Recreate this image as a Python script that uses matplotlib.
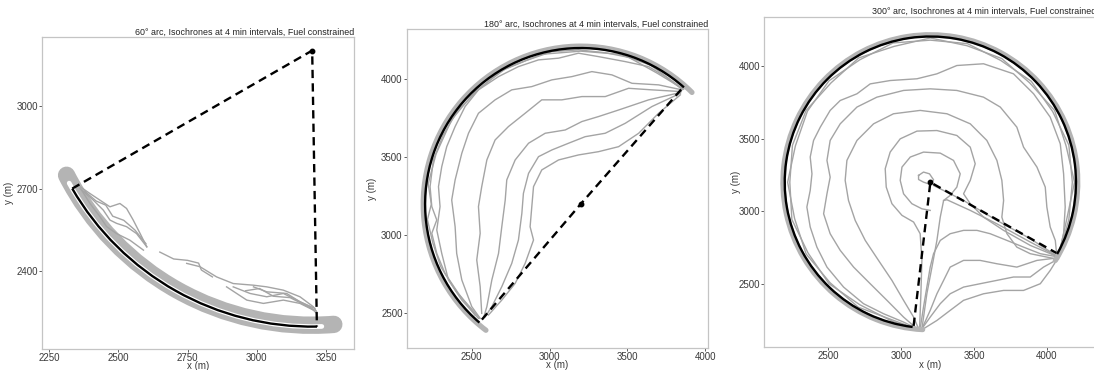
import matplotlib
matplotlib.use("Agg")
import matplotlib.pyplot as plt
from matplotlib.patches import Arc

plt.rcParams["font.family"] = ["Liberation Sans", "DejaVu Sans"]

GREY = "#a4a4a4"
BAND = "#b4b4b4"
CENTER = (3200, 3200)
RADIUS = 1000

# ---- panel 1 : 60 deg arc ----
p1_title = "60° arc, Isochrones at 4 min intervals, Fuel constrained"
p1_arc = (210, 271)
p1_band = (207, 274.5)
p1_dash_x = [2334, 3200, 3217]
p1_dash_y = [2700, 3200, 2200]
p1_iso = [
    [(2362, 2707), (2398, 2682), (2434, 2658), (2470, 2634), (2506, 2646), (2530, 2628),
     (2554, 2586), (2579, 2537), (2603, 2489)],
    [(2362, 2700), (2410, 2658), (2446, 2622), (2470, 2586), (2494, 2574), (2530, 2562),
     (2566, 2537), (2603, 2489)],
    [(2368, 2694), (2398, 2646), (2434, 2598), (2458, 2562), (2494, 2537), (2542, 2513),
     (2591, 2477)],
    [(2380, 2690), (2420, 2655), (2455, 2640), (2480, 2600), (2520, 2585), (2560, 2550),
     (2600, 2500)],
    [(2650, 2470), (2700, 2445), (2750, 2440), (2790, 2430), (2800, 2405), (2840, 2380)],
    [(2747, 2429), (2795, 2417), (2855, 2380), (2915, 2356), (2988, 2350), (3036, 2344),
     (3096, 2332), (3156, 2308), (3204, 2272), (3216, 2254)],
    [(2915, 2344), (2976, 2320), (3036, 2308), (3096, 2320), (3144, 2296), (3192, 2272),
     (3216, 2248)],
    [(2891, 2344), (2964, 2296), (3024, 2284), (3096, 2296), (3156, 2284), (3204, 2260)],
    [(2988, 2344), (3036, 2326), (3108, 2320), (3156, 2290), (3210, 2266)],
    [(2960, 2330), (3010, 2338), (3060, 2310), (3120, 2305), (3170, 2280), (3212, 2258)],
]

# ---- panel 2 : 180 deg arc ----
p2_title = "180° arc, Isochrones at 4 min intervals, Fuel constrained"
p2_arc = (48.4, 229.4)
p2_band = (45, 233)
p2_dash_x = [2565, 3200, 3858]
p2_dash_y = [2460, 3200, 3948]
p2_iso = [
    [(3841, 3900), (3701, 3782), (3573, 3654), (3444, 3568), (3315, 3536), (3186, 3515),
     (3058, 3483), (2950, 3419), (2897, 3312), (2886, 3184), (2875, 3055), (2897, 2970),
     (2843, 2820), (2779, 2692), (2693, 2585), (2607, 2489)],
    [(3841, 3910), (3658, 3825), (3487, 3718), (3358, 3654), (3229, 3632), (3122, 3590),
     (3015, 3547), (2929, 3504), (2865, 3397), (2832, 3269), (2822, 3141), (2800, 2970),
     (2757, 2820), (2693, 2671), (2629, 2543), (2586, 2478)],
    [(3841, 3915), (3637, 3868), (3444, 3803), (3315, 3761), (3208, 3729), (3101, 3675),
     (2972, 3654), (2865, 3590), (2779, 3483), (2725, 3355), (2715, 3226), (2693, 3055),
     (2672, 2884), (2629, 2714), (2597, 2543), (2575, 2468)],
    [(3847, 3921), (3658, 3932), (3508, 3942), (3358, 3889), (3208, 3889), (3079, 3868),
     (2950, 3868), (2843, 3782), (2736, 3697), (2650, 3611), (2597, 3483), (2564, 3312),
     (2543, 3184), (2554, 3013), (2532, 2842), (2554, 2671), (2564, 2500)],
    [(3851, 3932), (3701, 3964), (3530, 3974), (3401, 4028), (3272, 4049), (3144, 4017),
     (3015, 3996), (2886, 3953), (2757, 3932), (2650, 3868), (2543, 3782), (2479, 3654),
     (2436, 3526), (2393, 3355), (2371, 3226), (2393, 3055), (2403, 2884), (2436, 2714),
     (2500, 2543), (2554, 2468)],
    [(3851, 3936), (3744, 4017), (3637, 4081), (3487, 4113), (3315, 4145), (3186, 4167),
     (3058, 4135), (2929, 4124), (2800, 4081), (2672, 4017), (2543, 3932), (2457, 3825),
     (2393, 3697), (2339, 3568), (2307, 3440), (2286, 3312), (2296, 3184), (2275, 3034),
     (2307, 2884), (2350, 2714), (2436, 2585), (2543, 2468)],
    [(3862, 3936), (3690, 4040), (3510, 4140), (3358, 4170), (3186, 4188), (3015, 4177),
     (2850, 4120), (2680, 4050), (2545, 3935), (2410, 3800), (2315, 3640), (2253, 3483),
     (2232, 3312), (2243, 3184), (2275, 3098), (2243, 3013), (2275, 2884), (2328, 2756),
     (2414, 2628), (2521, 2489)],
    [(3855, 3940), (3650, 4090), (3450, 4160), (3200, 4180), (2950, 4160), (2720, 4070),
     (2520, 3920), (2370, 3740), (2270, 3520), (2220, 3330), (2240, 3200), (2215, 3100),
     (2250, 2950), (2300, 2800), (2400, 2640), (2550, 2470)],
]

# ---- panel 3 : 300 deg arc ----
p3_title = "300° arc, Isochrones at 4 min intervals, Fuel constrained"
p3_arc = (-29.5, 263)
p3_band = (-32, 267)
p3_dash_x = [3085, 3200, 4065]
p3_dash_y = [2215, 3200, 2715]
p3_iso = [
    [(4080, 2690), (4151, 2945), (4175, 3200), (4151, 3455), (4040, 3685), (3893, 3893),
     (3683, 4036), (3455, 4151), (3200, 4175), (2944, 4156), (2715, 4040), (2504, 3896),
     (2356, 3688), (2273, 3449), (2220, 3200), (2268, 2950), (2347, 2708), (2511, 2511),
     (2705, 2343), (2946, 2253), (3130, 2185)],
    [(4080, 2690), (4137, 2949), (4190, 3200), (4132, 3450), (4053, 3693), (3882, 3882),
     (3690, 4049), (3451, 4137), (3200, 4190), (2950, 4132), (2708, 4053), (2518, 3882),
     (2347, 3693), (2253, 3454), (2235, 3200), (2249, 2945), (2360, 2715), (2504, 2504),
     (2715, 2360), (2944, 2244), (3130, 2185)],
    [(4080, 2691), (4115, 2847), (4126, 3030), (4115, 3258), (4092, 3464), (4023, 3647),
     (3909, 3807), (3771, 3944), (3565, 4013), (3382, 4001), (3245, 3944), (3108, 3910),
     (2924, 3898), (2787, 3875), (2696, 3807), (2581, 3761), (2512, 3693), (2444, 3578),
     (2398, 3487), (2375, 3373), (2387, 3258), (2375, 3144), (2352, 3030), (2375, 2893),
     (2421, 2755), (2490, 2618), (2604, 2481), (2741, 2367), (2879, 2298), (3016, 2241),
     (3108, 2195)],
    [(4069, 2687), (4058, 2801), (4023, 2893), (4000, 3030), (3989, 3167), (3932, 3304),
     (3840, 3441), (3794, 3578), (3680, 3716), (3565, 3784), (3382, 3830), (3199, 3841),
     (3016, 3830), (2833, 3784), (2696, 3716), (2581, 3601), (2512, 3487), (2490, 3350),
     (2512, 3235), (2490, 3121), (2467, 2984), (2512, 2847), (2581, 2733), (2673, 2618),
     (2787, 2504), (2902, 2390), (3016, 2275), (3108, 2195)],
    [(4058, 2675), (3886, 2710), (3794, 2755), (3726, 2847), (3691, 2961), (3703, 3075),
     (3691, 3213), (3657, 3350), (3588, 3487), (3474, 3601), (3314, 3670), (3130, 3693),
     (2947, 3670), (2810, 3601), (2696, 3487), (2627, 3350), (2615, 3213), (2638, 3075),
     (2684, 2938), (2753, 2801), (2844, 2664), (2936, 2527), (3016, 2390), (3085, 2275),
     (3119, 2195)],
    [(4080, 2687), (3886, 2767), (3703, 2870), (3565, 2961), (3474, 3053), (3428, 3121),
     (3474, 3213), (3508, 3327), (3474, 3441), (3382, 3521), (3245, 3555), (3108, 3551),
     (2993, 3498), (2924, 3407), (2890, 3293), (2897, 3167), (2936, 3053), (3005, 2973),
     (3085, 2927), (3130, 2847), (3142, 2664), (3135, 2435), (3126, 2195)],
    [(3291, 3075), (3336, 3110), (3382, 3167), (3405, 3258), (3359, 3350), (3268, 3400),
     (3153, 3407), (3062, 3373), (3005, 3304), (2993, 3213), (3016, 3121), (3073, 3053),
     (3142, 3018), (3199, 3007)],
    [(3119, 3247), (3153, 3270), (3194, 3258), (3222, 3217), (3199, 3185), (3153, 3201),
     (3119, 3219), (3119, 3247)],
    [(4080, 2687), (3955, 2710), (3840, 2755), (3726, 2801), (3611, 2847), (3520, 2870),
     (3428, 2870), (3336, 2847), (3268, 2801), (3222, 2710), (3199, 2618), (3176, 2481),
     (3153, 2344), (3130, 2195)],
    [(4080, 2682), (3932, 2664), (3794, 2618), (3657, 2641), (3542, 2664), (3428, 2664),
     (3336, 2618), (3291, 2527), (3245, 2435), (3199, 2321), (3142, 2195)],
    [(4080, 2675), (3977, 2618), (3886, 2550), (3771, 2550), (3657, 2527), (3542, 2504),
     (3428, 2481), (3336, 2435), (3268, 2367), (3199, 2275), (3142, 2195)],
    [(4080, 2687), (4023, 2595), (3955, 2504), (3840, 2458), (3703, 2458), (3565, 2435),
     (3428, 2390), (3336, 2321), (3245, 2252), (3153, 2195)],
    [(4080, 2687), (3886, 2790), (3657, 2915), (3474, 3007), (3314, 3080), (3291, 3075),
     (3268, 2961), (3245, 2801), (3211, 2618), (3176, 2435), (3142, 2195)],
    [(3222, 3178), (3428, 3075), (3657, 2938), (3886, 2813), (4080, 2687)],
]

fig = plt.figure(figsize=(10.94, 3.70), dpi=100)
ax1 = fig.add_axes([0.0387, 0.0576, 0.2849, 0.8416])
ax2 = fig.add_axes([0.3718, 0.0586, 0.2757, 0.8622])
ax3 = fig.add_axes([0.6984, 0.0630, 0.3035, 0.8919])


def add_arc(ax, theta, color, lw, r=RADIUS, cap="butt", z=3):
    ax.add_patch(Arc(CENTER, 2 * r, 2 * r, theta1=theta[0], theta2=theta[1],
                     edgecolor=color, lw=lw, capstyle=cap, zorder=z))


def draw_panel(ax, iso, arc, band, dash_x, dash_y, title, xlim, ylim, xticks, yticks,
               ylab_x, xlab_y, wide_band=False):
    for curve in iso:
        ax.plot([p[0] for p in curve], [p[1] for p in curve], color=GREY, lw=1.0, zorder=1)
    if wide_band:
        # dense bundle of isochrones hugging the short arc
        add_arc(ax, band, BAND, 12.5, r=995, cap="round", z=0.8)
        add_arc(ax, (arc[0] - 1.3, arc[1] + 1.0), "white", 3.4, cap="round", z=2.5)
    else:
        add_arc(ax, band, BAND, 3.8, r=1012, cap="round", z=2)
    add_arc(ax, arc, "black", 1.7)
    ax.plot(dash_x, dash_y, color="black", lw=1.7, dashes=(3.5, 2.2), zorder=4)
    ax.plot([CENTER[0]], [CENTER[1]], "o", color="black", ms=3.2, zorder=5)

    ax.set_xlim(xlim)
    ax.set_ylim(ylim)
    ax.set_xticks(xticks)
    ax.set_yticks(yticks)
    for s in ax.spines.values():
        s.set_color("#c4c4c4")
        s.set_linewidth(0.9)
    ax.tick_params(direction="out", length=2.0, width=0.6, color="#444444",
                   labelcolor="#3a3a3a", labelsize=7.0, pad=1.0)
    ax.set_xlabel("x (m)", fontsize=7.0, color="#3a3a3a", va="top")
    ax.xaxis.set_label_coords(0.5, xlab_y)
    ax.set_ylabel("y (m)", fontsize=7.0, color="#3a3a3a")
    ax.yaxis.set_label_coords(ylab_x, 0.5)
    ax.set_title(title, loc="right", fontsize=6.4, color="#222222", pad=2)


draw_panel(ax1, p1_iso, p1_arc, p1_band, p1_dash_x, p1_dash_y, p1_title,
           (2226, 3351), (2120, 3248), [2250, 2500, 2750, 3000, 3250], [2400, 2700, 3000],
           -0.09, -0.039, wide_band=True)
draw_panel(ax2, p2_iso, p2_arc, p2_band, p2_dash_x, p2_dash_y, p2_title,
           (2082, 4021), (2276, 4320), [2500, 3000, 3500, 4000], [2500, 3000, 3500, 4000],
           -0.10, -0.038)
draw_panel(ax3, p3_iso, p3_arc, p3_band, p3_dash_x, p3_dash_y, p3_title,
           (2058, 4338), (2072, 4336), [2500, 3000, 3500, 4000], [2500, 3000, 3500, 4000],
           -0.068, -0.040)

fig.savefig("out.png", dpi=100)
